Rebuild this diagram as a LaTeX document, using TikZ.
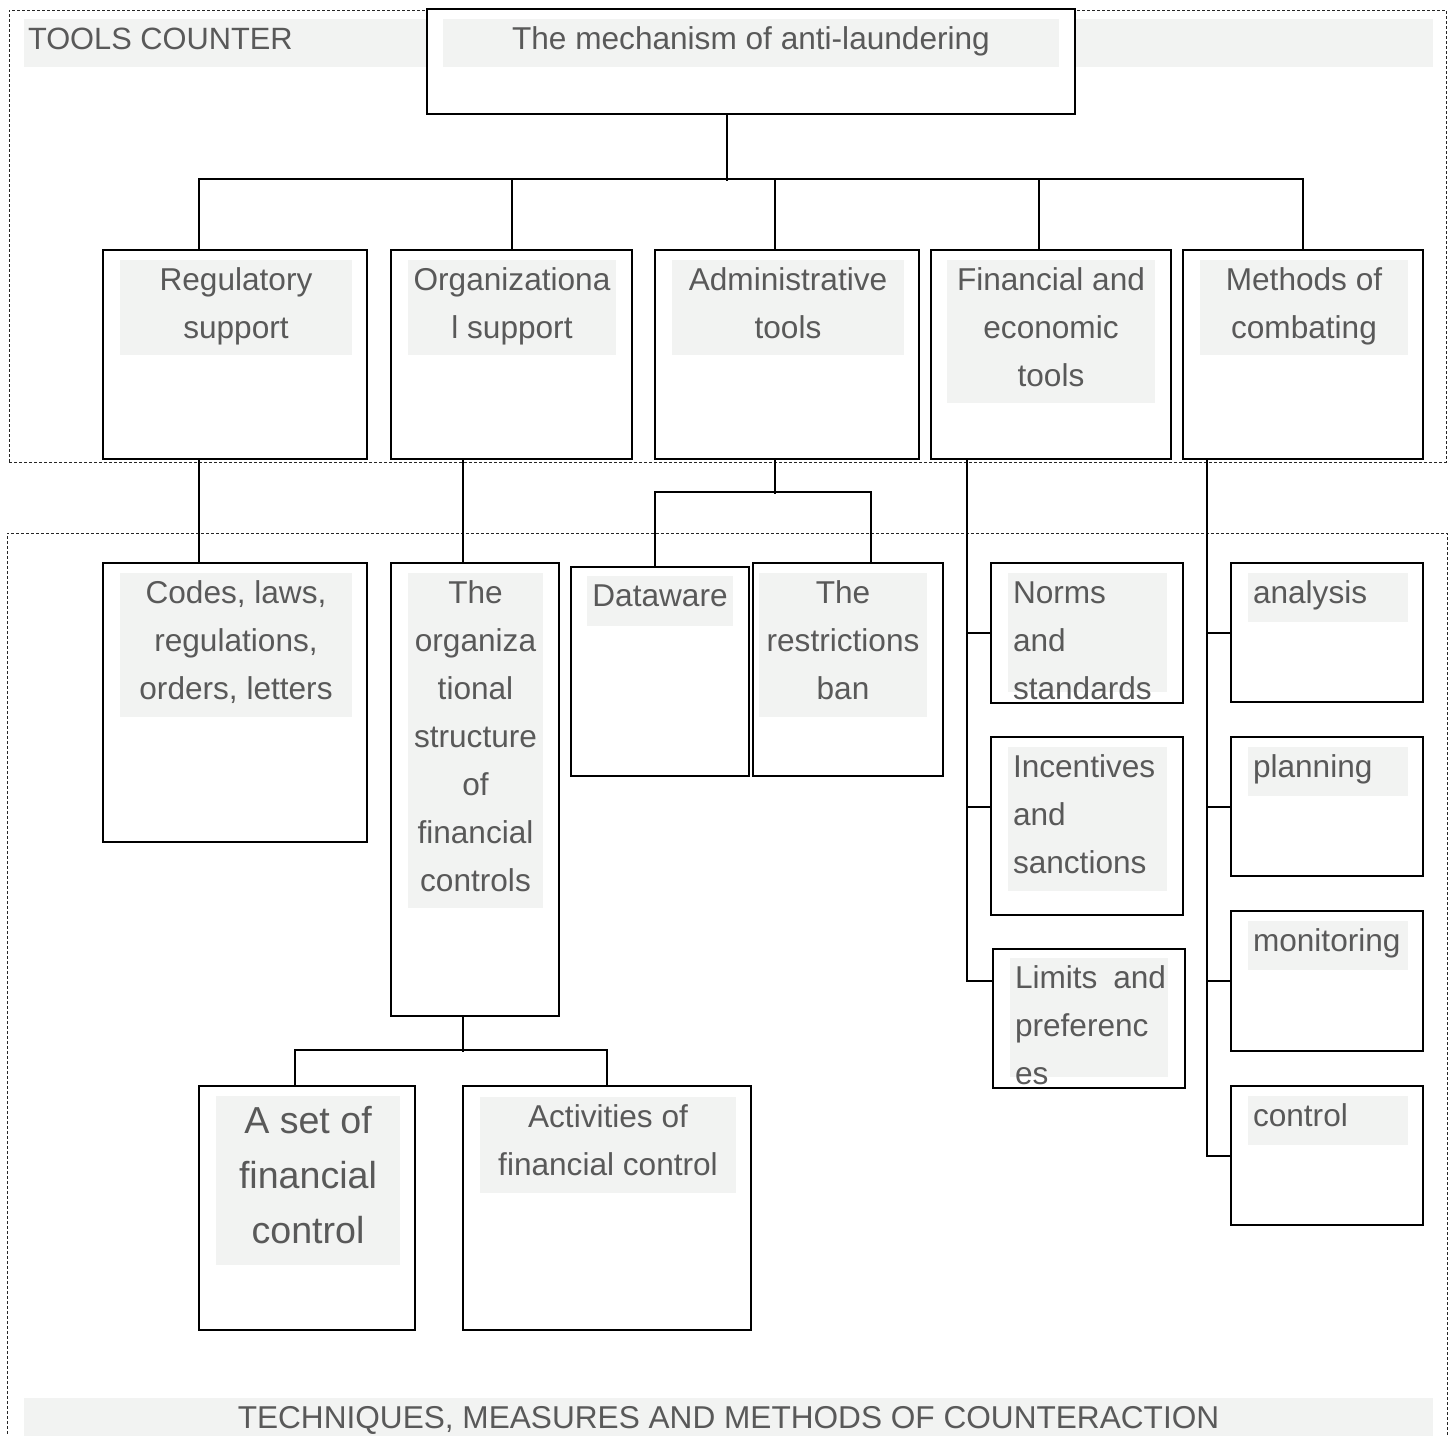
\documentclass[tikz,border=0pt]{standalone}
\usepackage{fontspec}
\setmainfont{Liberation Sans}
\usetikzlibrary{fit,calc,positioning}

\definecolor{bandgray}{RGB}{242,243,242}
\definecolor{textgray}{RGB}{89,89,89}
% line struts: 24pt lines, 15pt above the baseline
\newcommand{\ls}{\rule[-9pt]{0pt}{24pt}}
\newcommand{\lsbig}{\rule[-11pt]{0pt}{29.5pt}}

\tikzset{
  box/.style={draw=black, line width=1pt, fill=white, inner sep=0pt},
  band/.style={fill=bandgray, inner sep=0pt},
  frame/.style={draw=black!85, line width=0.5pt, dash pattern=on 1.5pt off 1pt, inner sep=0pt},
  txt/.style={text=textgray, inner sep=0pt, align=center, anchor=north,
    font=\fontsize{15.8}{24}\selectfont},
  ltxt/.style={txt, align=left, anchor=north west},
  conn/.style={draw, line width=1pt},
}

\begin{document}
\begin{tikzpicture}[x=0.5pt, y=-0.5pt]
  \useasboundingbox (0,0) rectangle (1453,1436);
    % Frames and wide bands
    \node [frame, fit={(9,10) (1446,462)}] (toolsframe) {};
    \node [frame, fit={(7,533) (1447,1470)}] (techframe) {};
    \node [band, fit={(24,19) (1433,67)}] (toolsb) {};
    \node [band, fit={(24,1398) (1433,1451)}] (techb) {};
    \node [ltxt, font=\fontsize{15.4}{24}\selectfont] (tools) at ($(toolsb.north west)+(4,0)$) {\ls TOOLS COUNTER};
    \node [txt] (tech) at (techb.north) {\ls TECHNIQUES, MEASURES AND METHODS OF COUNTERACTION};

    % Place boxes
    \node [box, fit={(427,9) (1075,114)}] (main) {};
    \node [box, fit={(103,250) (367,459)}] (reg) {};
    \node [box, fit={(391,250) (632,459)}] (org) {};
    \node [box, fit={(655,250) (919,459)}] (adm) {};
    \node [box, fit={(931,250) (1171,459)}] (fin) {};
    \node [box, fit={(1183,250) (1423,459)}] (meth) {};
    \node [box, fit={(103,563) (367,842)}] (codes) {};
    \node [box, fit={(391,563) (559,1016)}] (orgstr) {};
    \node [box, fit={(571,567) (749,776)}] (data) {};
    \node [box, fit={(753,563) (943,776)}] (restr) {};
    \node [box, fit={(991,563) (1183,703)}] (norms) {};
    \node [box, fit={(991,737) (1183,915)}] (incent) {};
    \node [box, fit={(993,949) (1185,1088)}] (limits) {};
    \node [box, fit={(1231,563) (1423,702)}] (anal) {};
    \node [box, fit={(1231,737) (1423,876)}] (plan) {};
    \node [box, fit={(1231,911) (1423,1051)}] (monit) {};
    \node [box, fit={(1231,1086) (1423,1225)}] (ctrl) {};
    \node [box, fit={(199,1086) (415,1330)}] (set) {};
    \node [box, fit={(463,1086) (751,1330)}] (activ) {};

    % Text bands
    \node [band, fit={(443,19) (1059,67)}] (mainb) {};
    \node [band, fit={(120,260) (352,355)}] (regb) {};
    \node [band, fit={(408,260) (616,355)}] (orgb) {};
    \node [band, fit={(672,260) (904,355)}] (admb) {};
    \node [band, fit={(947,260) (1155,403)}] (finb) {};
    \node [band, fit={(1200,260) (1408,355)}] (methb) {};
    \node [band, fit={(120,573) (352,717)}] (codesb) {};
    \node [band, fit={(408,573) (543,908)}] (orgstrb) {};
    \node [band, fit={(587,576) (733,626)}] (datab) {};
    \node [band, fit={(759,573) (927,717)}] (restrb) {};
    \node [band, fit={(1008,573) (1167,692)}] (normsb) {};
    \node [band, fit={(1008,747) (1167,891)}] (incentb) {};
    \node [band, fit={(1010,958) (1168,1077)}] (limitsb) {};
    \node [band, fit={(1248,573) (1408,622)}] (analb) {};
    \node [band, fit={(1248,747) (1408,796)}] (planb) {};
    \node [band, fit={(1248,921) (1408,970)}] (monitb) {};
    \node [band, fit={(1248,1096) (1408,1145)}] (ctrlb) {};
    \node [band, fit={(216,1096) (400,1265)}] (setb) {};
    \node [band, fit={(480,1097) (736,1193)}] (activb) {};

    % Texts
    \node [txt] (maint) at (mainb.north) {\ls The mechanism of anti-laundering};
    \node [txt] (regt) at (regb.north) {\ls Regulatory\\support};
    \node [txt] (orgt) at (orgb.north) {\ls Organizationa\\l support};
    \node [txt] (admt) at (admb.north) {\ls Administrative\\tools};
    \node [txt] (fint) at (finb.north) {\ls Financial and\\economic\\tools};
    \node [txt] (metht) at (methb.north) {\ls Methods of\\combating};
    \node [txt] (codest) at (codesb.north) {\ls Codes, laws,\\regulations,\\orders, letters};
    \node [txt] (orgstrt) at (orgstrb.north) {\ls The\\organiza\\tional\\structure\\of\\financial\\controls};
    \node [txt] (datat) at (datab.north) {\ls Dataware};
    \node [txt] (restrt) at (restrb.north) {\ls The\\restrictions\\ban};
    \node [ltxt] (normst) at ($(normsb.north west)+(5,0)$) {\ls Norms\\and\\standards};
    \node [ltxt] (incentt) at ($(incentb.north west)+(5,0)$) {\ls Incentives\\and\\sanctions};
    \node [ltxt] (limitst) at ($(limitsb.north west)+(5,0)$) {\ls\makebox[75.5pt][s]{Limits and}\\preferenc\\es};
    \node [ltxt] (analt) at ($(analb.north west)+(5,0)$) {\ls analysis};
    \node [ltxt] (plant) at ($(planb.north west)+(5,0)$) {\ls planning};
    \node [ltxt] (monitt) at ($(monitb.north west)+(5,0)$) {\ls monitoring};
    \node [ltxt] (ctrlt) at ($(ctrlb.north west)+(5,0)$) {\ls control};
    \node [txt, font=\fontsize{18.8}{27.5}\selectfont] (sett) at (setb.north) {\lsbig A set of\\financial\\control};
    \node [txt] (activt) at (activb.north) {\ls Activities of\\financial control};

    % Draw edges
    \draw [conn] ($(main.south)+(-24,0)$) -- ++(0,66);
    \draw [conn] ($(reg.north)+(-36,0)$) |- ($(meth.north)+(0,-70)$) -- (meth.north);
    \foreach \n/\dx in {org/0, adm/-12, fin/-12}
      \draw [conn] ($(\n.north)+(\dx,-70)$) -- ($(\n.north)+(\dx,0)$);

    \draw [conn] ($(reg.south)+(-36,0)$) -- ($(codes.north)+(-36,0)$);
    \draw [conn] ($(org.south)+(-48.5,0)$) -- ($(orgstr.north)+(-12,0)$);
    \draw [conn] ($(adm.south)+(-12,0)$) -- ++(0,34);
    \draw [conn] ($(data.north)+(-5,0)$) |- ($(restr.north)+(23,-70)$) -- ($(restr.north)+(23,0)$);

    \coordinate (finbus) at ($(fin.south)+(-84,0)$);
    \draw [conn] (finbus) |- (limits.west |- monit.west);
    \draw [conn] (finbus |- norms.west) -- (norms.west);
    \draw [conn] (finbus |- plan.west) -- (incent.west |- plan.west);

    \coordinate (methbus) at ($(meth.south)+(-96,0)$);
    \draw [conn] (methbus) |- (ctrl.west);
    \foreach \n in {anal, plan, monit}
      \draw [conn] (methbus |- \n.west) -- (\n.west);

    \draw [conn] ($(orgstr.south)+(-12,0)$) -- ++(0,35);
    \draw [conn] ($(set.north)+(-12,0)$) |- ($(activ.north)+(0,-35)$) -- (activ.north);
\end{tikzpicture}
\end{document}
